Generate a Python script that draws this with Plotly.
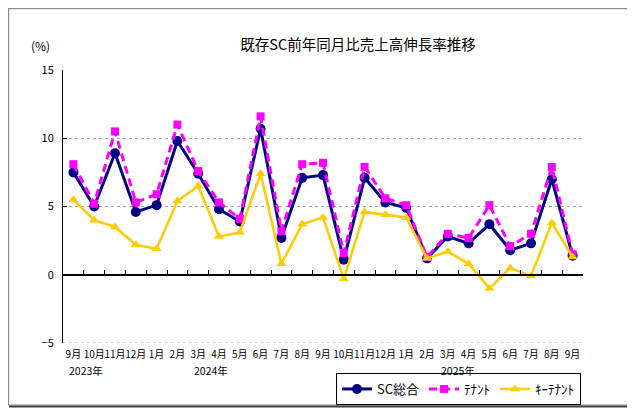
import plotly.graph_objects as go

# ---------------- data ----------------
categories = ["2023-09", "2023-10", "2023-11", "2023-12", "2024-01", "2024-02", "2024-03",
              "2024-04", "2024-05", "2024-06", "2024-07", "2024-08", "2024-09", "2024-10",
              "2024-11", "2024-12", "2025-01", "2025-02", "2025-03", "2025-04", "2025-05",
              "2025-06", "2025-07", "2025-08", "2025-09"]
month_labels = ["9月", "10月", "11月", "12月", "1月", "2月", "3月", "4月", "5月", "6月", "7月",
                "8月", "9月", "10月", "11月", "12月", "1月", "2月", "3月", "4月", "5月", "6月",
                "7月", "8月", "9月"]
year_labels = ["2023年", "2024年", "2025年"]
year_label_pos = [0.62, 6.6, 18.5]

sc_total = [7.5, 5.0, 8.9, 4.6, 5.1, 9.8, 7.4, 4.8, 3.9, 10.7, 2.7, 7.1, 7.3, 1.1,
            7.1, 5.3, 4.9, 1.2, 2.8, 2.3, 3.7, 1.8, 2.3, 7.0, 1.4]
tenant = [8.1, 5.2, 10.5, 5.3, 5.9, 11.0, 7.6, 5.3, 4.1, 11.6, 3.2, 8.1, 8.2, 1.6,
          7.9, 5.6, 5.1, 1.3, 3.0, 2.7, 5.1, 2.1, 3.0, 7.9, 1.5]
key_tenant = [5.5, 4.0, 3.5, 2.2, 1.9, 5.4, 6.5, 2.8, 3.1, 7.4, 0.8, 3.7, 4.2, -0.3,
              4.6, 4.4, 4.2, 1.2, 1.7, 0.8, -1.0, 0.5, -0.1, 3.8, 1.3]

series_names = ["SC総合", "ﾃﾅﾝﾄ", "ｷｰﾃﾅﾝﾄ"]
title_text = "既存SC前年同月比売上高伸長率推移"
unit_text = "(%)"

# ---------------- layout geometry ----------------
# the page body has an 8px margin, so the figure is drawn 8px in from the window edge
OFF = 8
WIN_W, WIN_H = 635, 412
W, H = WIN_W - OFF, WIN_H - OFF
PLOT_L, PLOT_R, PLOT_T, PLOT_B = 63, 583, 70, 343   # window pixels
ML, MT = PLOT_L - OFF, PLOT_T - OFF
MR, MB = W - (PLOT_R - OFF), H - (PLOT_B - OFF)
PW, PH = W - ML - MR, H - MT - MB

def px_x(x):
    return (x - PLOT_L) / PW

def px_y(y):
    return (PLOT_B - y) / PH

def cx(x):
    return (x - OFF) / W

def cy(y):
    return 1 - (y - OFF) / H

FONT = "Noto Sans CJK JP, Noto Sans, sans-serif"

fig = go.Figure()

fig.add_trace(go.Scatter(
    x=categories, y=sc_total, name=series_names[0], mode="lines+markers",
    line=dict(color="#000080", width=3),
    marker=dict(symbol="circle", size=10, color="#000080"),
))
fig.add_trace(go.Scatter(
    x=categories, y=tenant, name=series_names[1], mode="lines+markers",
    line=dict(color="#FF00FF", width=3, dash="8px,5px"),
    marker=dict(symbol="square", size=8, color="#FF00FF"),
))
fig.add_trace(go.Scatter(
    x=categories, y=key_tenant, name=series_names[2], mode="lines+markers",
    line=dict(color="#FFCC00", width=2.5),
    marker=dict(symbol="triangle-up", size=9, color="#FFCC00"),
))
# helper trace so the zero-line category axis (ticks) is drawn
fig.add_trace(go.Scatter(
    x=categories, y=sc_total, xaxis="x2", mode="markers",
    marker=dict(opacity=0), showlegend=False, hoverinfo="skip",
))

annotations = [
    dict(text=unit_text, xref="paper", yref="paper", x=px_x(40), y=px_y(45),
         showarrow=False, font=dict(size=12, color="black", family=FONT),
         xanchor="center", yanchor="middle"),
]
for lab, pos in zip(year_labels, year_label_pos):
    annotations.append(dict(text=lab, xref="x", yref="paper", x=pos, y=px_y(370),
                            showarrow=False, xanchor="center", yanchor="middle",
                            font=dict(size=10.5, color="black", family=FONT)))

shapes = [
    dict(type="rect", xref="paper", yref="paper", x0=px_x(8.6), x1=px_x(628),
         y0=px_y(405), y1=px_y(8.6), line=dict(color="#8C8C8C", width=1.2)),
    dict(type="line", xref="paper", yref="paper", x0=px_x(629), x1=px_x(629),
         y0=px_y(407), y1=px_y(9), line=dict(color="#404040", width=2)),
    dict(type="line", xref="paper", yref="paper", x0=px_x(9), x1=px_x(630),
         y0=px_y(406.5), y1=px_y(406.5), line=dict(color="#404040", width=2)),
    # dotted gridline at the bottom of the value range
    dict(type="line", xref="paper", yref="y", x0=0, x1=1, y0=-5, y1=-5,
         line=dict(color="#A6A6A6", width=1, dash="dot")),
]

fig.update_layout(
    width=W, height=H,
    margin=dict(l=ML, r=MR, t=MT, b=MB, autoexpand=False),
    paper_bgcolor="white", plot_bgcolor="white",
    font=dict(family=FONT, color="black", size=11),
    title=dict(text=title_text, x=cx(358), y=cy(45), xanchor="center", yanchor="middle",
               xref="container", yref="container",
               font=dict(size=14.5, color="black", family=FONT)),
    xaxis=dict(type="category", categoryorder="array", categoryarray=categories,
               range=[-0.5, len(categories) - 0.5],
               tickmode="array", tickvals=categories, ticktext=month_labels,
               showgrid=False, showline=False, ticks="", zeroline=False, automargin=False,
               ticklabelstandoff=4,
               tickfont=dict(size=10, color="black", family=FONT), tickangle=0),
    xaxis2=dict(type="category", categoryorder="array", categoryarray=categories,
                range=[-0.5, len(categories) - 0.5], overlaying="x", anchor="free",
                position=0.25, side="bottom", showline=True, linecolor="black", linewidth=1.5,
                ticks="inside", tickson="boundaries", ticklen=4, tickcolor="black", tickwidth=1,
                showticklabels=False, showgrid=False, zeroline=False),
    yaxis=dict(range=[-5, 15], dtick=5, tick0=0, showgrid=True, gridcolor="#A6A6A6",
               griddash="dot", gridwidth=1, zeroline=True, zerolinecolor="black",
               zerolinewidth=1.5, showline=True, linecolor="black", linewidth=1,
               ticks="inside", ticklen=4, tickcolor="black", automargin=False,
               ticklabelstandoff=6,
               tickfont=dict(size=11, color="black", family=FONT)),
    legend=dict(orientation="h", xref="container", yref="container",
                x=cx(336), y=cy(389), xanchor="left", yanchor="middle",
                bordercolor="black", borderwidth=1, bgcolor="white",
                font=dict(size=13, color="black", family=FONT), tracegroupgap=0),
    annotations=annotations,
    shapes=shapes,
    showlegend=True,
)

fig.write_html("out.html")
